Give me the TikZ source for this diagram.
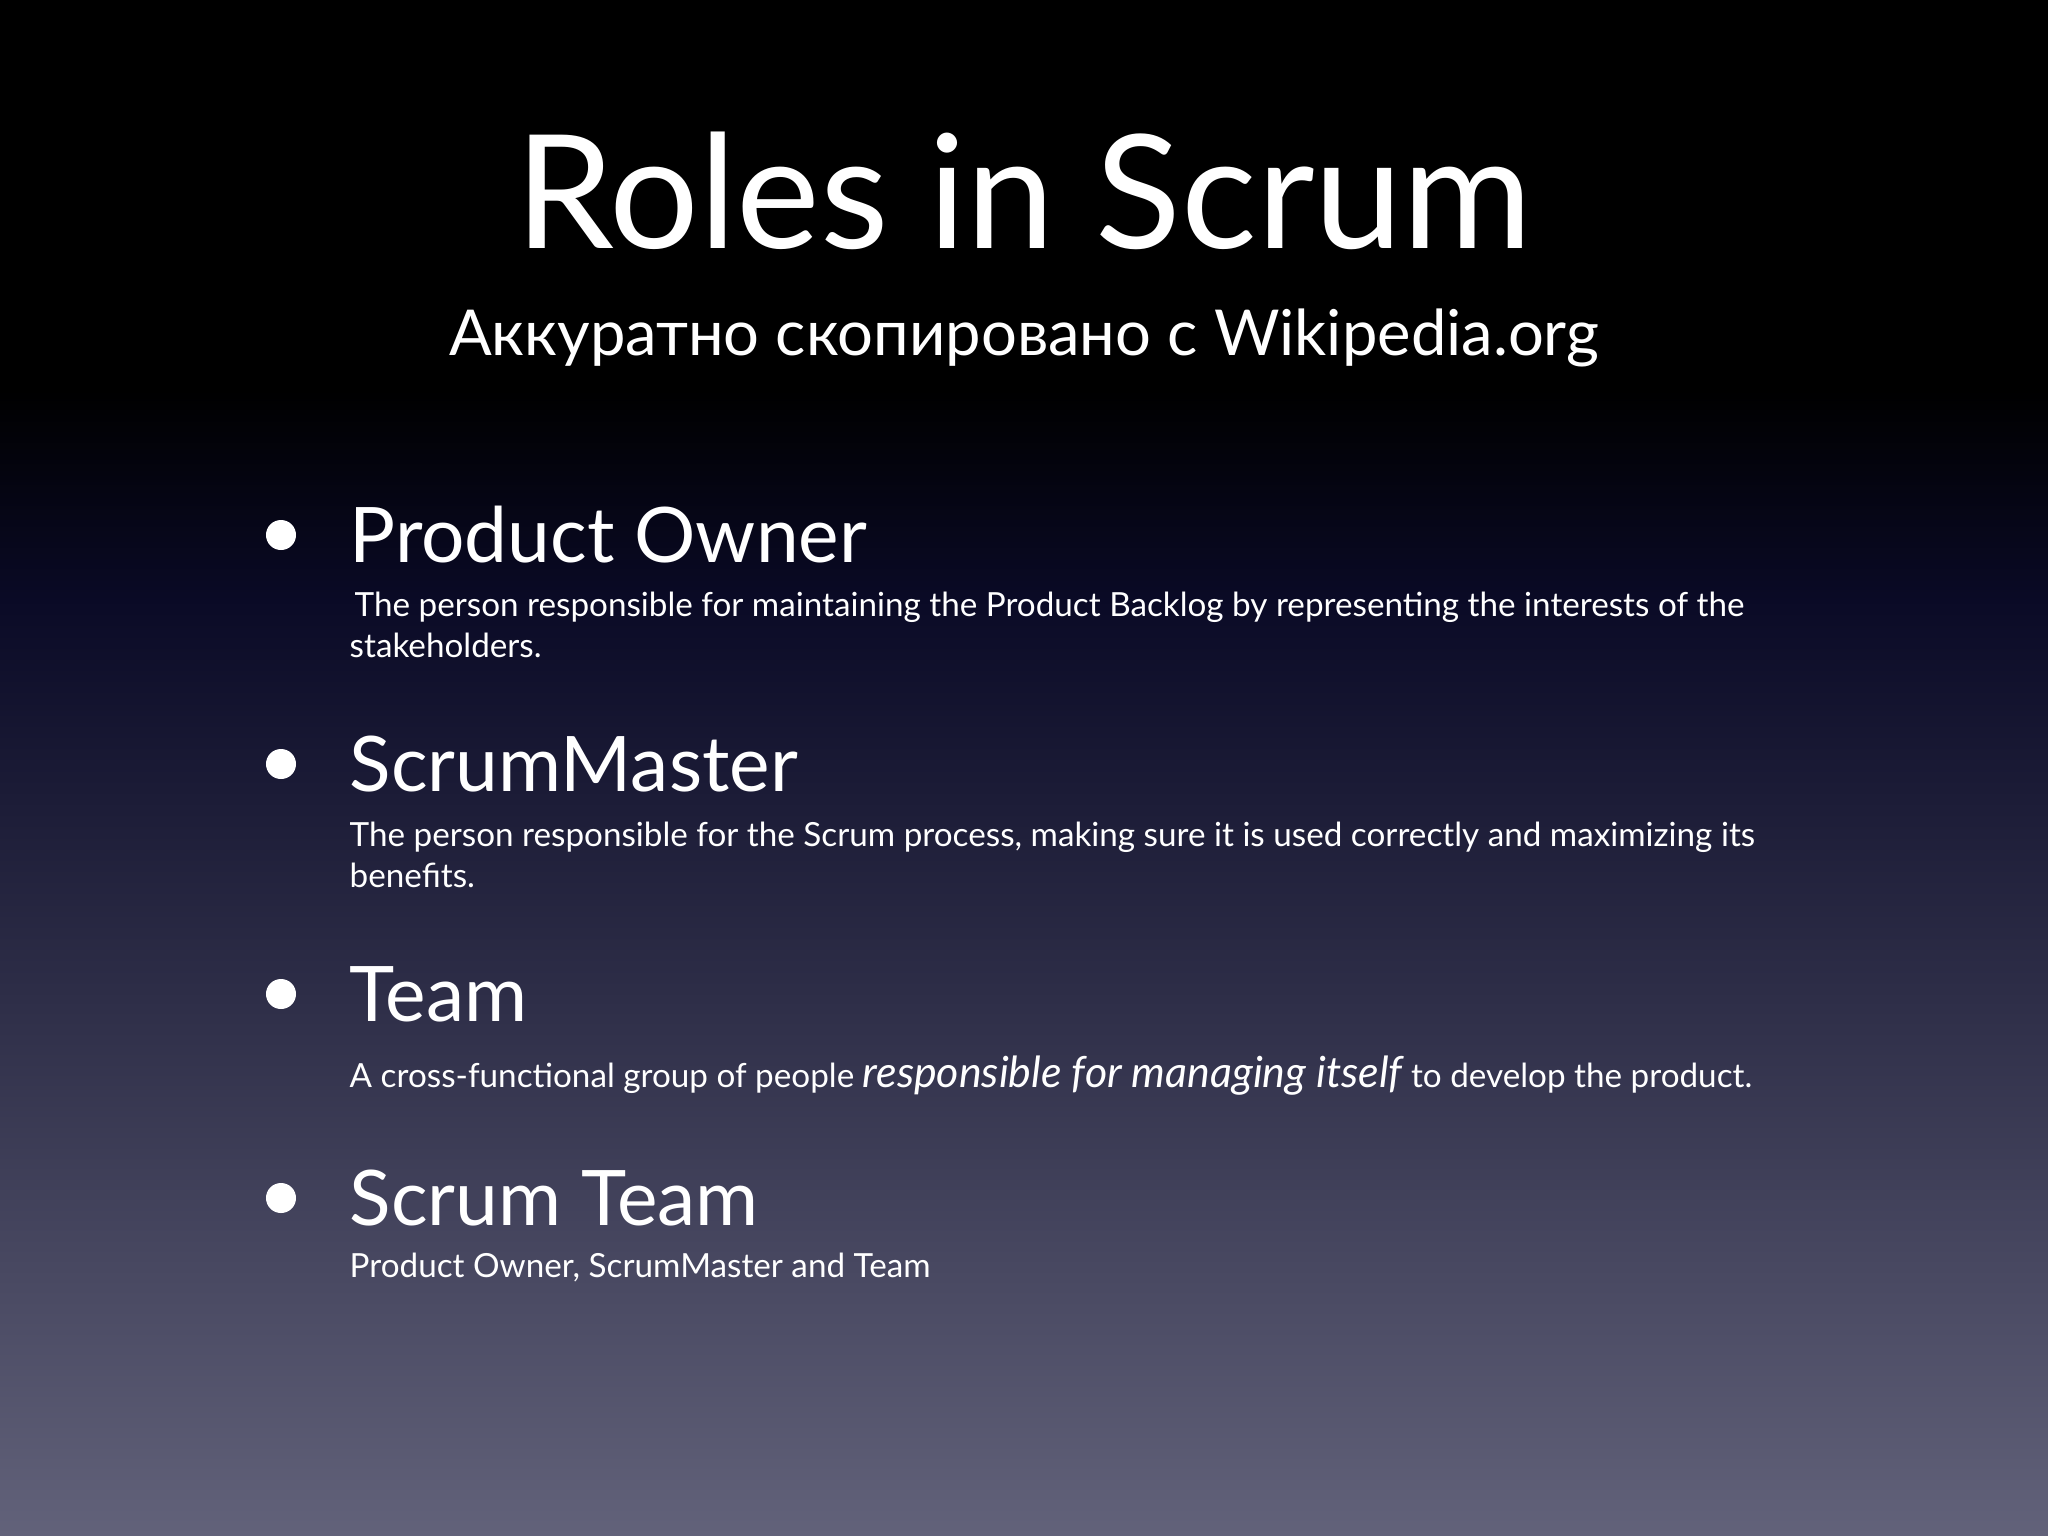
\documentclass[tikz,border=0pt]{standalone}
\usepackage{fontspec}
\setmainfont{Lato}
\definecolor{bgbot}{HTML}{62627A}
\definecolor{bgmid}{HTML}{2E2E48}
\definecolor{bgnavy}{HTML}{0A0A26}
\tikzset{
  head/.style={anchor=base west, text=white, font=\fontsize{21.8}{26}\selectfont, inner sep=0},
  desc/.style={anchor=base west, text=white, font=\fontsize{9.45}{11}\selectfont, inner sep=0},
  dot/.style={circle, fill=white, minimum size=0.3cm, inner sep=0},
}
\begin{document}
\begin{tikzpicture}[x=0.01cm,y=-0.01cm]
\fill[black] (0,0) rectangle (2048,392);
\shade[top color=black, bottom color=bgnavy] (0,390) rectangle (2048,600);
\shade[top color=bgnavy, bottom color=bgmid] (0,598) rectangle (2048,1000);
\shade[top color=bgmid, bottom color=bgbot] (0,998) rectangle (2048,1536);
\useasboundingbox (0,0) rectangle (2048,1536);
\node[anchor=base, text=white, font=\fontsize{45}{54}\selectfont, inner sep=0] (title) at (1024,248) {Roles in Scrum};
\node[anchor=base, text=white, font=\fontsize{18}{22}\selectfont, inner sep=0] (sub) at (1024,355) {Аккуратно скопировано с Wikipedia.org};

\node[dot] (b1) at (281,535) {};
\node[head] (h1) at (349,562) {Product Owner};
\node[desc] (d1a) at (354,616) {The person responsible for maintaining the Product Backlog by representing the interests of the};
\node[desc] (d1b) at (349,657) {stakeholders.};

\node[dot] (b2) at (281,764) {};
\node[head] (h2) at (349,791) {ScrumMaster};
\node[desc] (d2a) at (349,846) {The person responsible for the Scrum process, making sure it is used correctly and maximizing its};
\node[desc] (d2b) at (349,887) {benefits.};

\node[dot] (b3) at (281,994) {};
\node[head] (h3) at (349,1021) {Team};
\node[desc] (d3) at (349,1087) {A cross-functional group of people {\fontsize{12.2}{14}\selectfont\itshape responsible for managing itself} to develop the product.};

\node[dot] (b4) at (281,1198) {};
\node[head] (h4) at (349,1225) {Scrum Team};
\node[desc] (d4) at (349,1277) {Product Owner, ScrumMaster and Team};
\end{tikzpicture}
\end{document}
